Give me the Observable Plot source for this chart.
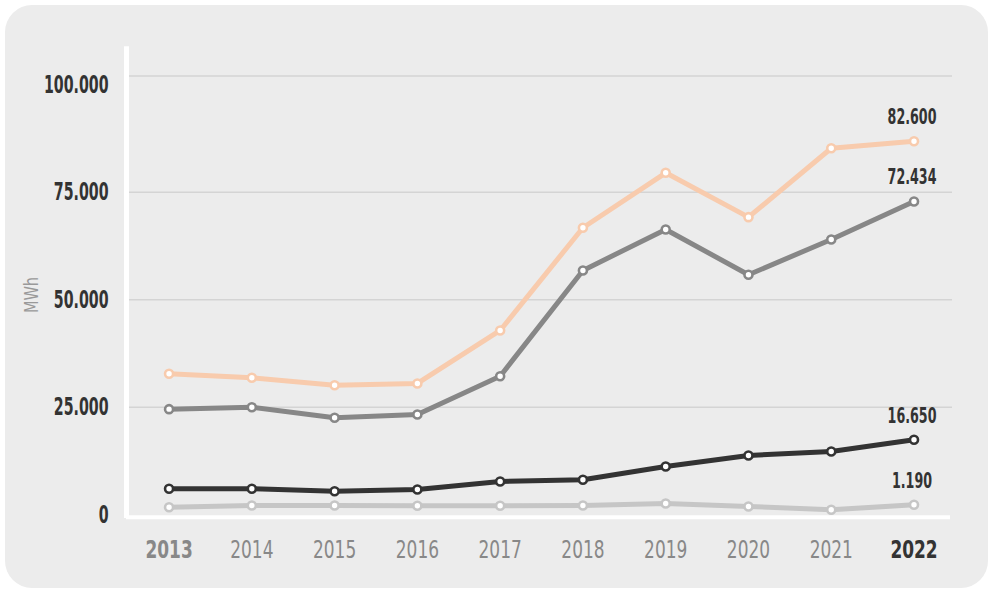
<!DOCTYPE html>
<html><head><meta charset="utf-8">
<script src="https://cdn.jsdelivr.net/npm/d3@7"></script>
<script src="https://cdn.jsdelivr.net/npm/@observablehq/plot@0.6"></script>
<style>
body{margin:0;background:#fff;}
#wrap{position:relative;width:993px;height:590px;overflow:hidden;}
#panel{position:absolute;left:5px;top:5px;width:983px;height:583px;background:#ececec;border-radius:27px;}
#chart{position:absolute;left:0;top:0;}
</style></head><body>
<div id="wrap"><div id="panel"></div><div id="chart"></div></div>
<script>
const years = [2013, 2014, 2015, 2016, 2017, 2018, 2019, 2020, 2021, 2022];
const seriesKeys = ["s1", "s2", "s3", "s4"];
const seriesColors = ["#f8cbad", "#878787", "#333333", "#c6c6c6"];
const s1Values = [32780, 31850, 30130, 30530, 42860, 66750, 79190, 69220, 84480, 85990];
const s2Values = [24550, 25010, 22550, 23310, 32220, 56820, 66360, 55820, 64030, 72870];
const s3Values = [6030, 6030, 5470, 5860, 7720, 8120, 11210, 13770, 14700, 17430];
const s4Values = [1750, 2140, 2140, 2070, 2070, 2140, 2600, 1910, 1140, 2300];
const endLabels = ["82.600", "72.434", "16.650", "1.190"];
const yTicks = [0, 25000, 50000, 75000, 100000];
const yLabel = "MWh";

const FONT = "'DejaVu Sans Condensed','DejaVu Sans',sans-serif";
const allValues = [s1Values, s2Values, s3Values, s4Values];
const data = seriesKeys.flatMap((k, j) => years.map((yr, i) => ({year: yr, value: allValues[j][i], key: k})));
const last = seriesKeys.map((k, j) => ({year: years[years.length - 1], value: allValues[j][years.length - 1], key: k, label: endLabels[j]}));
const fmt = d => d3.format(",")(d).replace(/,/g, ".");
const xMin = 2012.51, xMax = 2022.465;
// the top band (75.000–100.000) of the original axis is drawn slightly taller
const stretch = v => v <= 75000 ? v : 75000 + (v - 75000) * 116.3 / 107.45;

const chart = Plot.plot({
  width: 993, height: 590,
  marginLeft: 128, marginRight: 41, marginTop: 75, marginBottom: 76,
  style: {background: "transparent", fontFamily: FONT, overflow: "visible"},
  x: {domain: [xMin, xMax]},
  y: {transform: stretch, domain: [0, stretch(100000)], range: [514.2, 75.5]},
  color: {domain: seriesKeys, range: seriesColors},
  marks: [
    Plot.ruleY(yTicks.slice(1), {x1: xMin, x2: xMax, stroke: "#d4d4d4", strokeWidth: 1.5}),
    Plot.ruleX([xMin], {y1: -900, y2: 106300, stroke: "#fff", strokeWidth: 5, dx: -2}),
    Plot.ruleY([0], {x1: xMin, x2: xMax, stroke: "#fff", strokeWidth: 4, dy: 2.5, dx: -2}),
    Plot.axisY({ticks: yTicks, tickSize: 0, tickPadding: 20, tickFormat: fmt, fontSize: 25, fontWeight: "bold", fill: "#333", label: null}),
    Plot.axisX({ticks: years, tickSize: 0, tickPadding: 26, tickFormat: d => String(d), fontSize: 25, fill: "#888", label: null}),
    Plot.line(data, {x: "year", y: "value", z: "key", stroke: "key", strokeWidth: 5, strokeLinejoin: "round"}),
    Plot.dot(data, {x: "year", y: "value", stroke: "key", fill: "#fff", r: 4, strokeWidth: 2.6}),
    Plot.text(last, {x: "year", y: "value", text: "label", dy: -24, dx: -2, fontSize: 21, fontWeight: "bold", fill: "#333"}),
    Plot.text([yLabel], {frameAnchor: "left", rotate: -90, dx: -97, textAnchor: "middle", fontSize: 19, fill: "#999"})
  ]
});
document.getElementById("chart").appendChild(chart);

const yTickTexts = yTicks.map(fmt);
const yearTexts = years.map(String);
d3.select(chart).selectAll("text").each(function() {
  const t = this.textContent;
  if (t === "2013") { this.setAttribute("font-weight", "bold"); this.setAttribute("fill", "#888"); }
  if (t === "2022") { this.setAttribute("font-weight", "bold"); this.setAttribute("fill", "#333"); }
  let f = 1;
  if (yTickTexts.includes(t)) f = 0.63;
  else if (yearTexts.includes(t)) f = 0.755;
  else if (endLabels.includes(t)) f = 0.67;
  else if (t === yLabel) f = 0.85;
  if (f !== 1) {
    const w = this.getComputedTextLength();
    this.setAttribute("textLength", w * f);
    this.setAttribute("lengthAdjust", "spacingAndGlyphs");
  }
});
</script>
</body></html>
